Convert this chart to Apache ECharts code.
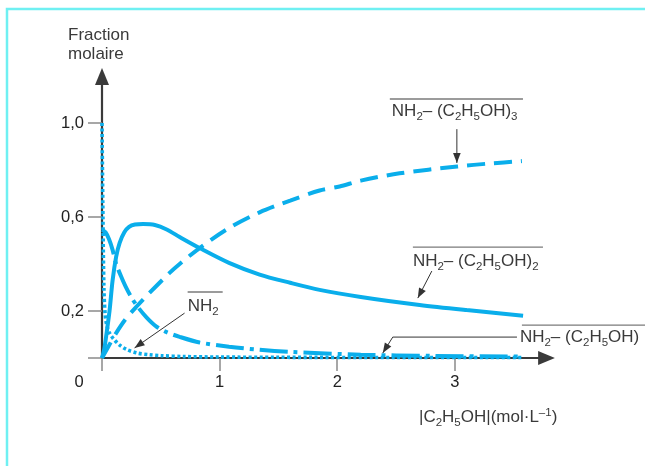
<!DOCTYPE html>
<html>
<head>
<meta charset="utf-8">
<script src="https://cdn.jsdelivr.net/npm/echarts@6/dist/echarts.min.js"></script>
<style>
html,body{margin:0;padding:0;background:#fff;}
#c{width:645px;height:466px;}
</style>
</head>
<body>
<div id="c"></div>
<script>
// ---- data ----
const xTickValues = [0, 1, 2, 3];
const xTickLabels = ['0', '1', '2', '3'];
const yTickValues = [0, 0.2, 0.6, 1.0];
const yLabelValues = [0.2, 0.6, 1.0];
const yTickLabels = ['0,2', '0,6', '1,0'];

// free NH2 (dotted)
const fracNH2 = [[0,1.0],[0.008,0.6],[0.016,0.3],[0.026,0.19],[0.04,0.14],[0.065,0.105],[0.1,0.08],[0.15,0.055],[0.21,0.036],[0.3,0.021],[0.4,0.014],[0.5,0.01],[0.7,0.006],[1,0.004],[1.5,0.003],[2.5,0.002],[3.57,0.002]];
// NH2-(C2H5OH) (dash-dot)
const fracNH2E1 = [[0,0.545],[0.03,0.535],[0.06,0.505],[0.09,0.46],[0.12,0.40],[0.16,0.35],[0.2,0.305],[0.25,0.258],[0.3,0.22],[0.38,0.172],[0.46,0.135],[0.55,0.11],[0.66,0.09],[0.83,0.066],[1.08,0.048],[1.34,0.035],[1.6,0.026],[2.2,0.014],[2.8,0.009],[3.57,0.006]];
// NH2-(C2H5OH)2 (solid)
const fracNH2E2 = [[0,0],[0.02,0.04],[0.04,0.11],[0.064,0.2],[0.09,0.33],[0.12,0.43],[0.15,0.49],[0.19,0.535],[0.23,0.558],[0.28,0.568],[0.35,0.57],[0.45,0.566],[0.55,0.547],[0.66,0.515],[0.83,0.468],[1.08,0.405],[1.34,0.355],[1.6,0.32],[1.85,0.29],[2.2,0.26],[2.7,0.226],[3.1,0.204],[3.58,0.18]];
// NH2-(C2H5OH)3 (dashed)
const fracNH2E3 = [[0,0],[0.05,0.045],[0.12,0.106],[0.2,0.165],[0.29,0.217],[0.4,0.275],[0.57,0.36],[0.66,0.40],[0.83,0.468],[1.08,0.553],[1.34,0.62],[1.6,0.67],[1.85,0.713],[2.02,0.73],[2.2,0.755],[2.53,0.786],[3.02,0.815],[3.3,0.828],[3.57,0.838]];

const BLUE = '#0AAEEB';
const INK = '#3a3a3a';
const FONT = 'Liberation Sans, Arial, sans-serif';
const FS = 17;
const subRich = {
  s: {fontSize: 11.5, fontFamily: FONT, color: INK, verticalAlign: 'bottom', lineHeight: 11, padding: [0,0,-2,0]},
  p: {fontSize: 11.5, fontFamily: FONT, color: INK, verticalAlign: 'top', lineHeight: 11}
};

const arrowSym = 'path://M5,0L10,12L0,12Z';

const option = {
  animation: false,
  backgroundColor: '#ffffff',
  title: [
    {text: 'Fraction\nmolaire', left: 63, top: 21,
     textStyle: {fontSize: FS, fontWeight: 'normal', color: INK, fontFamily: FONT, lineHeight: 19}},
    {text: '|C{s|2}H{s|5}OH|(mol·L{p|–1})', left: 414, top: 402,
     textStyle: {fontSize: FS, fontWeight: 'normal', color: INK, fontFamily: FONT, lineHeight: 20, rich: subRich}}
  ],
  grid: {left: 102, right: 98.5, top: 76.5, bottom: 108, containLabel: false},
  xAxis: {
    type: 'value', min: 0, max: 3.779,
    splitLine: {show: false},
    axisLine: {show: true, onZero: true, lineStyle: {color: INK, width: 2.2},
      symbol: ['none', arrowSym], symbolSize: [14, 17]},
    axisTick: {show: true, customValues: xTickValues, length: 13, lineStyle: {color: '#8a8a8a', width: 1.5}},
    axisLabel: {customValues: xTickValues, margin: 16, color: '#222', fontSize: 16.5, fontFamily: FONT,
      formatter: function (v) { const i = xTickValues.indexOf(v); const t = i >= 0 ? xTickLabels[i] : ''; return v === 0 ? '{z|' + t + '}' : t; },
      rich: {z: {fontSize: 16.5, fontFamily: FONT, color: '#222', padding: [0, 46, 0, 0]}}}
  },
  yAxis: {
    type: 'value', min: 0, max: 1.198,
    splitLine: {show: false},
    axisLine: {show: true, lineStyle: {color: INK, width: 2.2},
      symbol: ['none', arrowSym], symbolSize: [14, 17]},
    axisTick: {show: true, customValues: yTickValues, length: 14, lineStyle: {color: '#8a8a8a', width: 1.5}},
    axisLabel: {customValues: yLabelValues, margin: 18, color: '#222', fontSize: 16.5, fontFamily: FONT,
      formatter: function (v) { const i = yLabelValues.findIndex(function (a) { return Math.abs(a - v) < 1e-9; }); return i >= 0 ? yTickLabels[i] : ''; }}
  },
  series: [
    {type: 'line', data: fracNH2, showSymbol: false, smooth: 0.3, clip: false,
     lineStyle: {color: BLUE, width: 3.6, type: [3, 2.5], cap: 'butt'}},
    {type: 'line', data: fracNH2E1, showSymbol: false, smooth: 0.3, clip: false,
     lineStyle: {color: BLUE, width: 4, type: [28, 6, 4, 6], cap: 'butt'}},
    {type: 'line', data: fracNH2E2, showSymbol: false, smooth: 0.3, clip: false,
     lineStyle: {color: BLUE, width: 4}},
    {type: 'line', data: fracNH2E3, showSymbol: false, smooth: 0.3, clip: false,
     lineStyle: {color: BLUE, width: 4, type: [18, 9], cap: 'butt'}}
  ]
};

const chart = echarts.init(document.getElementById('c'), null, {renderer: 'canvas'});
chart.setOption(option);

// ---- annotations, anchored in data coordinates ----
const annotations = [
  {text: 'NH{s|2}– (C{s|2}H{s|5}OH){s|3}', at: [2.464, 1.051], over: [[2.447, 1.102], [3.579, 1.102]],
   path: [[3.017, 0.974], [3.017, 0.830]]},
  {text: 'NH{s|2}– (C{s|2}H{s|5}OH){s|2}', at: [2.643, 0.413], over: [[2.643, 0.472], [3.749, 0.472]],
   path: [[2.804, 0.370], [2.685, 0.255]]},
  {text: 'NH{s|2}', at: [0.728, 0.221], over: [[0.728, 0.281], [1.026, 0.281]],
   path: [[0.702, 0.191], [0.277, 0.043]]},
  {text: 'NH{s|2}– (C{s|2}H{s|5}OH)', at: [3.553, 0.089], over: [[3.570, 0.140], [4.617, 0.140]],
   path: [[3.528, 0.089], [2.472, 0.089], [2.387, 0.021]]}
];
function toPx(p) { return chart.convertToPixel({gridIndex: 0}, p); }
const g = [];
g.push({type: 'rect', shape: {x: 7, y: 9, width: 700, height: 500}, style: {fill: 'none', stroke: '#6FF0F2', lineWidth: 2.5}, silent: true});
annotations.forEach(function (a) {
  const t = toPx(a.at);
  g.push({type: 'text', x: t[0], y: t[1], style: {text: a.text, fill: INK, fontSize: FS, fontFamily: FONT,
    verticalAlign: 'middle', align: 'left', lineHeight: 20, rich: subRich}});
  const o1 = toPx(a.over[0]), o2 = toPx(a.over[1]);
  g.push({type: 'line', shape: {x1: o1[0], y1: o1[1], x2: o2[0], y2: o2[1]}, style: {stroke: '#7a7a7a', lineWidth: 1.4}});
  const pts = a.path.map(toPx);
  g.push({type: 'polyline', shape: {points: pts}, style: {stroke: '#333', lineWidth: 1, fill: 'none'}});
  const e = pts[pts.length - 1], s = pts[pts.length - 2];
  const dx = e[0] - s[0], dy = e[1] - s[1], L = Math.sqrt(dx * dx + dy * dy);
  const ux = dx / L, uy = dy / L, len = 10, hw = 3.8;
  const bx = e[0] - ux * len, by = e[1] - uy * len;
  g.push({type: 'polygon', shape: {points: [[e[0], e[1]], [bx - uy * hw, by + ux * hw], [bx + uy * hw, by - ux * hw]]},
    style: {fill: '#333', stroke: 'none'}});
});
chart.setOption({graphic: g});
</script>
</body>
</html>
